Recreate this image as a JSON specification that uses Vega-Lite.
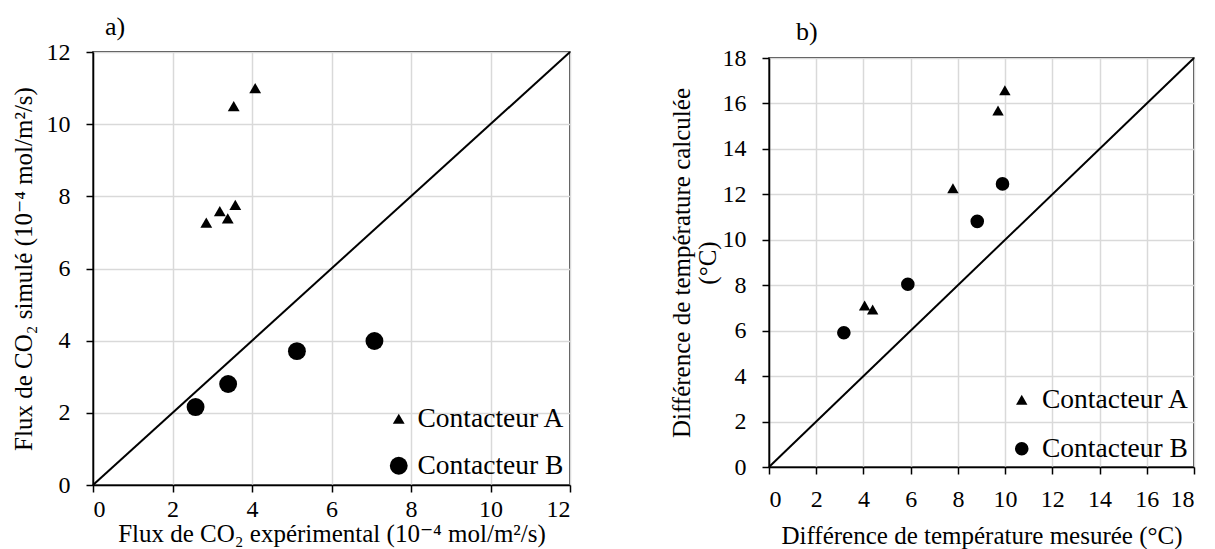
{
  "$schema": "https://vega.github.io/schema/vega-lite/v6.json",
  "background": "white",
  "padding": {"left": 10, "top": 12, "right": 0, "bottom": 0},
  "columns": 2,
  "align": "none",
  "spacing": 93,
  "resolve": {
    "scale": {"shape": "independent", "size": "independent"},
    "legend": {"shape": "independent", "size": "independent"}
  },
  "config": {
    "font": "Liberation Serif, Times New Roman, DejaVu Serif, serif",
    "view": {"stroke": "black", "strokeWidth": 1.5},
    "axis": {
      "labelFont": "Liberation Serif, Times New Roman, DejaVu Serif, serif", "titleFont": "Liberation Serif, Times New Roman, DejaVu Serif, serif",
      "labelFontSize": 24, "titleFontSize": 25, "titleFontWeight": "normal",
      "labelColor": "black", "titleColor": "black",
      "domainColor": "black", "domainWidth": 1.5,
      "tickColor": "black", "tickWidth": 1.5, "tickSize": 7,
      "gridColor": "#d9d9d9", "gridWidth": 1.5, "labelPadding": 16
    },
    "legend": {
      "labelFont": "Liberation Serif, Times New Roman, DejaVu Serif, serif", "labelFontSize": 27.5, "labelColor": "black",
      "padding": 0, "title": null
    },
    "title": {"font": "Liberation Serif, Times New Roman, DejaVu Serif, serif", "fontSize": 26, "fontWeight": "normal", "anchor": "start", "frame": "group", "color": "black", "baseline": "bottom"}
  },
  "concat": [
    {
      "spacing": 0,
      "resolve": {
        "scale": {"shape": "independent", "size": "independent"},
        "legend": {"shape": "independent", "size": "independent"}
      },
      "vconcat": [
        {
          "width": 1,
          "height": 1,
          "view": {"stroke": null},
          "data": {"values": []},
          "mark": {"type": "point", "opacity": 0},
          "encoding": {}
        },
        {
          "width": 477,
          "height": 433,
          "title": {"text": "a)", "dx": 12, "offset": 0},
          "layer": [
            {
              "data": {"values": [{"x": 0, "y": 0}, {"x": 12, "y": 12}]},
              "mark": {"type": "line", "color": "black", "strokeWidth": 2},
              "encoding": {
                "x": {"field": "x", "type": "quantitative", "scale": {"domain": [0, 12], "nice": false},
                  "axis": {"values": [0, 2, 4, 6, 8, 10, 12], "title": "Flux de CO₂ expérimental (10⁻⁴ mol/m²/s)", "labelPadding": 5, "titlePadding": 0}},
                "y": {"field": "y", "type": "quantitative", "scale": {"domain": [0, 12], "nice": false},
                  "axis": {"values": [0, 2, 4, 6, 8, 10, 12], "title": "Flux de CO₂ simulé (10⁻⁴ mol/m²/s)", "titlePadding": 10}}
              }
            },
            {
              "data": {"values": [
                {"x": 4.08, "y": 11.0, "serie": "Contacteur A"},
                {"x": 3.54, "y": 10.5, "serie": "Contacteur A"},
                {"x": 3.58, "y": 7.76, "serie": "Contacteur A"},
                {"x": 3.19, "y": 7.59, "serie": "Contacteur A"},
                {"x": 3.39, "y": 7.39, "serie": "Contacteur A"},
                {"x": 2.85, "y": 7.27, "serie": "Contacteur A"},
                {"x": 2.58, "y": 2.16, "serie": "Contacteur B"},
                {"x": 3.40, "y": 2.80, "serie": "Contacteur B"},
                {"x": 5.13, "y": 3.71, "serie": "Contacteur B"},
                {"x": 7.08, "y": 3.99, "serie": "Contacteur B"}
              ]},
              "mark": {"type": "point", "filled": true, "opacity": 1, "color": "black"},
              "encoding": {
                "x": {"field": "x", "type": "quantitative"},
                "y": {"field": "y", "type": "quantitative"},
                "shape": {"field": "serie", "type": "nominal",
                  "scale": {"domain": ["Contacteur A", "Contacteur B"], "range": ["triangle-up", "circle"]},
                  "legend": {"orient": "bottom-right", "offset": 5, "rowPadding": 18, "labelOffset": 5}},
                "size": {"field": "serie", "type": "nominal",
                  "scale": {"domain": ["Contacteur A", "Contacteur B"], "range": [140, 320]},
                  "legend": {"orient": "bottom-right", "offset": 5, "rowPadding": 18, "labelOffset": 5}}
              }
            }
          ]
        }
      ]
    },
    {
      "spacing": 0,
      "resolve": {
        "scale": {"shape": "independent", "size": "independent"},
        "legend": {"shape": "independent", "size": "independent"}
      },
      "vconcat": [
        {
          "width": 1,
          "height": 1,
          "view": {"stroke": null},
          "data": {"values": []},
          "mark": {"type": "point", "opacity": 0},
          "encoding": {}
        },
        {
          "width": 425,
          "height": 409,
          "title": {"text": ["", "b)"], "dx": 27, "offset": 1.5, "lineHeight": 4.5},
          "layer": [
            {
              "data": {"values": [{"x": 0, "y": 0}, {"x": 18, "y": 18}]},
              "mark": {"type": "line", "color": "black", "strokeWidth": 2},
              "encoding": {
                "x": {"field": "x", "type": "quantitative", "scale": {"domain": [0, 18], "nice": false},
                  "axis": {"values": [0, 2, 4, 6, 8, 10, 12, 14, 16, 18], "title": "Différence de température mesurée (°C)", "labelPadding": 13, "titlePadding": 12}},
                "y": {"field": "y", "type": "quantitative", "scale": {"domain": [0, 18], "nice": false},
                  "axis": {"values": [0, 2, 4, 6, 8, 10, 12, 14, 16, 18], "title": ["Différence de température calculée", "(°C)"], "titleLineHeight": 26, "titlePadding": 2}}
              }
            },
            {
              "data": {"values": [
                {"x": 9.99, "y": 16.58, "serie": "Contacteur A"},
                {"x": 9.70, "y": 15.69, "serie": "Contacteur A"},
                {"x": 7.79, "y": 12.27, "serie": "Contacteur A"},
                {"x": 4.05, "y": 7.11, "serie": "Contacteur A"},
                {"x": 4.39, "y": 6.93, "serie": "Contacteur A"},
                {"x": 3.17, "y": 5.91, "serie": "Contacteur B"},
                {"x": 5.88, "y": 8.04, "serie": "Contacteur B"},
                {"x": 8.82, "y": 10.81, "serie": "Contacteur B"},
                {"x": 9.89, "y": 12.46, "serie": "Contacteur B"}
              ]},
              "mark": {"type": "point", "filled": true, "opacity": 1, "color": "black"},
              "encoding": {
                "x": {"field": "x", "type": "quantitative"},
                "y": {"field": "y", "type": "quantitative"},
                "shape": {"field": "serie", "type": "nominal",
                  "scale": {"domain": ["Contacteur A", "Contacteur B"], "range": ["triangle-up", "circle"]},
                  "legend": {"orient": "bottom-right", "offset": 4, "rowPadding": 20, "labelOffset": 6.5}},
                "size": {"field": "serie", "type": "nominal",
                  "scale": {"domain": ["Contacteur A", "Contacteur B"], "range": [130, 185]},
                  "legend": {"orient": "bottom-right", "offset": 4, "rowPadding": 20, "labelOffset": 6.5}}
              }
            }
          ]
        }
      ]
    }
  ]
}
